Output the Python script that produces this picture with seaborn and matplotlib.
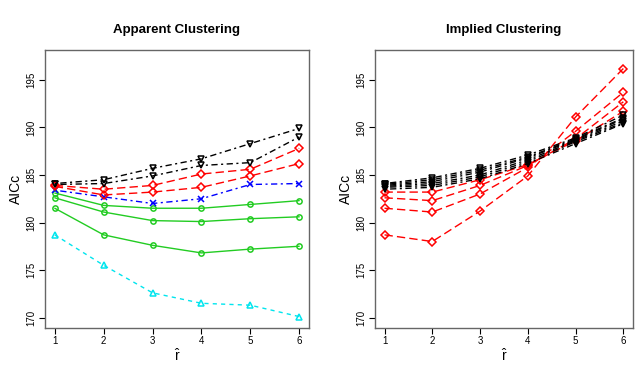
import matplotlib
matplotlib.use('Agg')
import matplotlib.pyplot as plt
import seaborn as sns
import numpy as np

r_hat = [1, 2, 3, 4, 5, 6]

# Apparent clustering
apparent_black = [
    [184.1, 184.5, 185.7, 186.7, 188.3, 189.9],
    [184.0, 184.1, 184.9, 186.0, 186.3, 189.0],
]
apparent_red = [
    [183.9, 183.5, 183.9, 185.1, 185.6, 187.8],
    [183.8, 182.9, 183.2, 183.7, 184.9, 186.2],
]
apparent_blue = [183.4, 182.7, 182.0, 182.5, 184.0, 184.1]
apparent_green = [
    [183.1, 181.8, 181.5, 181.5, 181.9, 182.3],
    [182.6, 181.1, 180.2, 180.1, 180.4, 180.6],
    [181.5, 178.7, 177.6, 176.8, 177.2, 177.5],
]
apparent_cyan = [178.7, 175.5, 172.6, 171.5, 171.3, 170.1]

# Implied clustering
implied_red = [
    [183.2, 183.2, 184.5, 186.1, 188.6, 191.7],
    [182.6, 182.3, 183.9, 186.0, 188.8, 192.7],
    [181.5, 181.1, 183.0, 185.8, 189.6, 193.7],
    [178.7, 178.0, 181.2, 184.9, 191.1, 196.2],
]
implied_black = [
    [184.1, 184.7, 185.7, 187.1, 188.9, 191.3],
    [184.0, 184.5, 185.5, 186.9, 188.8, 191.0],
    [183.9, 184.3, 185.3, 186.8, 188.7, 190.9],
    [183.8, 184.1, 185.0, 186.6, 188.6, 190.7],
    [183.7, 183.9, 184.8, 186.4, 188.5, 190.5],
    [183.5, 183.7, 184.6, 186.2, 188.3, 190.4],
]

sns.set_style('white')
plt.rcParams['font.family'] = ['Liberation Sans', 'DejaVu Sans']
plt.rcParams['mathtext.fontset'] = 'custom'
plt.rcParams['mathtext.rm'] = 'Liberation Sans'
plt.rcParams['mathtext.it'] = 'Liberation Sans'
plt.rcParams['text.color'] = 'black'
plt.rcParams['axes.labelcolor'] = 'black'
plt.rcParams['xtick.color'] = 'black'
plt.rcParams['ytick.color'] = 'black'

GREEN = '#22cc22'
CYAN = '#00e5ee'
dotdash = (0, (1.5, 2.5, 4.5, 2.5))
dashed = (0, (3, 3))
longdash = (0, (6, 3))


def draw(ax, vals, color, marker, ls, ms=3.8):
    sns.lineplot(x=r_hat, y=vals, ax=ax, color=color, linestyle=ls, lw=1,
                 marker=marker, markersize=ms, markerfacecolor='none',
                 markeredgecolor=color, markeredgewidth=1.1)


fig = plt.figure(figsize=(6.4, 3.7), dpi=100)
ax1 = fig.add_axes([0.0703, 0.1135, 0.4125, 0.7514])
ax2 = fig.add_axes([0.5859, 0.1135, 0.403, 0.7514])

draw(ax1, apparent_cyan, CYAN, '^', dashed)
for v in apparent_green:
    draw(ax1, v, GREEN, 'o', '-')
draw(ax1, apparent_blue, 'blue', 'x', dotdash)
for v in apparent_red:
    draw(ax1, v, 'red', 'D', longdash, 3.6)
for v in apparent_black:
    draw(ax1, v, 'black', 'v', dotdash)

for v in implied_red:
    draw(ax2, v, 'red', 'D', longdash, 3.6)
for v in implied_black:
    draw(ax2, v, 'black', 'v', dotdash)

for ax, title in [(ax1, 'Apparent Clustering'), (ax2, 'Implied Clustering')]:
    ax.set_xlim(0.8, 6.2)
    ax.set_ylim(168.9, 198.15)
    ax.set_xticks(r_hat)
    ax.set_yticks([170, 175, 180, 185, 190, 195])
    ax.tick_params(axis='both', direction='out', length=4, width=0.8,
                   labelsize=7, color='black', labelcolor='black', pad=2,
                   bottom=True, left=True)
    for lab in ax.get_yticklabels():
        lab.set_rotation(90)
        lab.set_va('center')
    for s in ax.spines.values():
        s.set_color('#666666')
        s.set_linewidth(1.0)
    ax.set_title(title, fontsize=9.5, fontweight='bold', pad=12, color='black')
    ax.set_xlabel(r'$\hat{\mathrm{r}}$', fontsize=10, labelpad=1)
    ax.set_ylabel('AICc', fontsize=10, labelpad=3)

fig.savefig('out.png', dpi=100)
